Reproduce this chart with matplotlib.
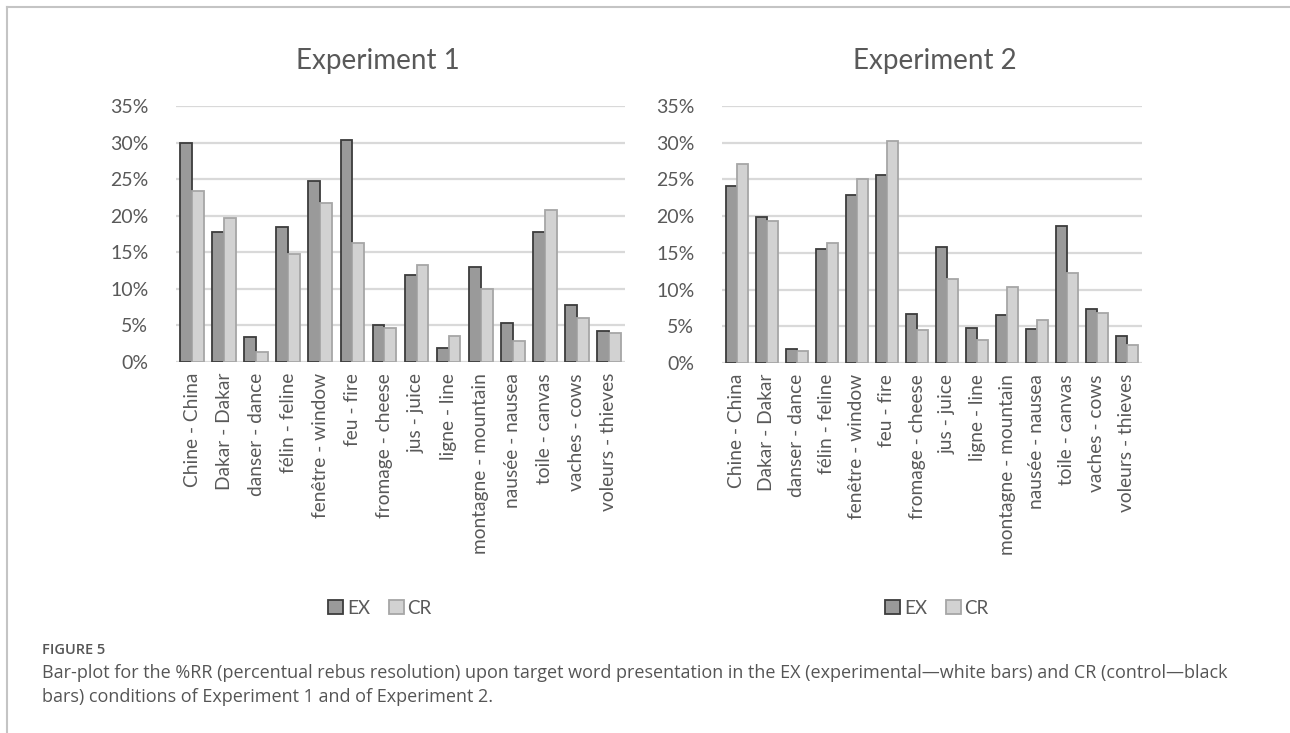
import numpy as np
import matplotlib
matplotlib.use("Agg")
import matplotlib.pyplot as plt
from matplotlib.lines import Line2D

labels = ["Chine - China", "Dakar - Dakar", "danser - dance", "félin - feline",
          "fenêtre - window", "feu - fire", "fromage - cheese", "jus - juice",
          "ligne - line", "montagne - mountain", "nausée - nausea", "toile - canvas",
          "vaches - cows", "voleurs - thieves"]

# experiment 1 (%)
ex1 = [29.9, 17.8, 3.4, 18.4, 24.7, 30.4, 5.1, 11.9, 1.9, 13.0, 5.3, 17.8, 7.8, 4.2]
cr1 = [23.4, 19.7, 1.4, 14.8, 21.7, 16.3, 4.6, 13.3, 3.5, 10.0, 2.9, 20.8, 6.0, 4.0]
# experiment 2 (%)
ex2 = [24.1, 19.9, 1.9, 15.5, 22.9, 25.6, 6.7, 15.8, 4.7, 6.5, 4.6, 18.6, 7.4, 3.7]
cr2 = [27.1, 19.3, 1.7, 16.3, 25.0, 30.2, 4.5, 11.5, 3.1, 10.3, 5.9, 12.3, 6.8, 2.5]

txt = "#595959"
ex_fill, ex_edge = "#9a9a9a", "#3c3c3c"
cr_fill, cr_edge = "#d2d2d2", "#a6a6a6"

fig = plt.figure(figsize=(12.9, 7.33), dpi=100)

# frame of the figure box
fig.add_artist(Line2D([7/1290, 1], [1-7/733, 1-7/733], color="#c4c4c4", lw=1.5))
fig.add_artist(Line2D([7/1290, 7/1290], [0, 1-7/733], color="#c4c4c4", lw=1.5))


def panel(rect, ex, cr, title, tx, lx):
    ax = fig.add_axes(rect)
    x = np.arange(len(labels))
    w = 0.37
    ax.bar(x - w/2, ex, w, color=ex_fill, edgecolor=ex_edge, linewidth=1.3, zorder=3, label="EX")
    ax.bar(x + w/2, cr, w, color=cr_fill, edgecolor=cr_edge, linewidth=1.3, zorder=3, label="CR")
    ax.set_xlim(-0.5, len(labels) - 0.5)
    ax.set_ylim(0, 35)
    ax.set_yticks(np.arange(0, 36, 5))
    ax.set_yticklabels([f"{v}%" for v in range(0, 36, 5)])
    ax.yaxis.grid(True, color="#d9d9d9", lw=1.6, zorder=0)
    for s in ax.spines.values():
        s.set_visible(False)
    ax.set_xticks(x)
    ax.set_xticklabels(labels, rotation=90, fontsize=13.8, color=txt, family="Lato")
    ax.tick_params(axis="both", length=0, colors=txt)
    ax.tick_params(axis="y", labelsize=14, pad=20)
    ax.tick_params(axis="x", pad=8)
    for t in ax.get_yticklabels():
        t.set_family("Lato")
    fig.text(tx / 1290, 1 - 61 / 733, title, ha="center", va="center",
             fontsize=20, color=txt, family="Lato")
    ax.legend(loc="center", bbox_to_anchor=(lx / 1290, 1 - 608 / 733),
              bbox_transform=fig.transFigure, ncol=2, frameon=False,
              handlelength=0.8, handleheight=0.8, handletextpad=0.2,
              columnspacing=1.0, prop={"family": "Lato", "size": 13.5},
              labelcolor=txt)
    return ax


panel([176/1290, 1 - 362/733, 449/1290, 256/733], ex1, cr1, "Experiment 1", 378, 380)
panel([722/1290, 1 - 363/733, 420/1290, 257/733], ex2, cr2, "Experiment 2", 935, 937)

fig.text(42/1290, 1 - 650/733, "FIGURE 5", fontsize=10.5, color="#555555",
         family="Open Sans", weight="semibold", va="center")
fig.text(42/1290, 1 - 673/733,
         "Bar-plot for the %RR (percentual rebus resolution) upon target word presentation in the EX "
         "(experimental\u2014white bars) and CR (control\u2014black",
         fontsize=13.0, color="#555555", family="Open Sans", va="center")
fig.text(42/1290, 1 - 697/733,
         "bars) conditions of Experiment 1 and of Experiment 2.",
         fontsize=13.0, color="#555555", family="Open Sans", va="center")

fig.savefig("out.png", dpi=100)
